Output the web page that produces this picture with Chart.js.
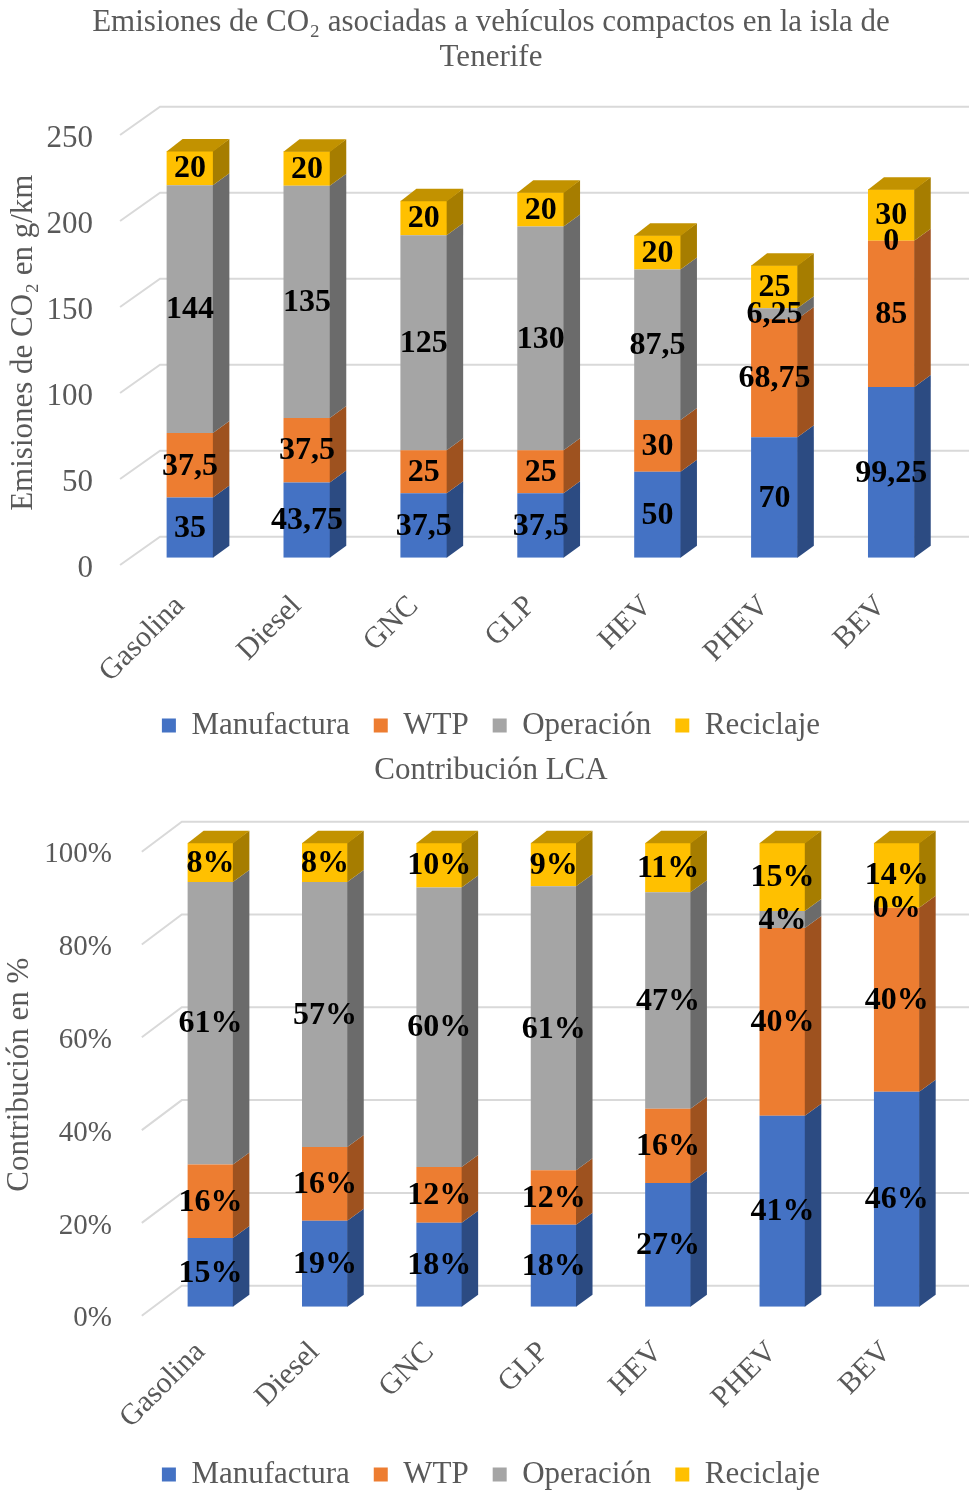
<!DOCTYPE html>
<html lang="es">
<head>
<meta charset="utf-8">
<title>Emisiones de CO₂ de vehículos compactos en Tenerife</title>
<script src="https://cdn.jsdelivr.net/npm/chart.js@4.4.1/dist/chart.umd.min.js"></script>
<style>
  html, body { margin: 0; padding: 0; width: 969px; height: 1492px; overflow: hidden; background: #ffffff; }
  canvas { position: absolute; left: 0; }
  #emisiones { top: 0; }
  #contribucion { top: 751px; }
</style>
</head>
<body>
<canvas id="emisiones" width="969" height="751"></canvas>
<canvas id="contribucion" width="969" height="749"></canvas>
<script>
// Vehicle technologies (categories)
const categories = ['Gasolina', 'Diesel', 'GNC', 'GLP', 'HEV', 'PHEV', 'BEV'];
const seriesNames = ['Manufactura', 'WTP', 'Operación', 'Reciclaje'];

// Life-cycle CO2 emissions, g/km
const manufactura = [35, 43.75, 37.5, 37.5, 50, 70, 99.25];
const wtp         = [37.5, 37.5, 25, 25, 30, 68.75, 85];
const operacion   = [144, 135, 125, 130, 87.5, 6.25, 0];
const reciclaje   = [20, 20, 20, 20, 20, 25, 30];

// Axis ticks
const emissionTicks = [0, 50, 100, 150, 200, 250];
const percentTicks  = [0, 20, 40, 60, 80, 100];

// Colours: front face, side face, top face
const faceColors = ['#4472C4', '#ED7D31', '#A5A5A5', '#FFC000'];
const sideColors = ['#2C4B82', '#9E521F', '#6B6B6B', '#A67D00'];
const topColors  = ['#3A63AB', '#C9692A', '#8A8A8A', '#C29200'];

const SERIF = '"Liberation Serif", "Times New Roman", serif';
const GREY = '#595959';

const series = [manufactura, wtp, operacion, reciclaje];

// 100 % stacked view: share of each stage in the vehicle total
const totals = categories.map((_, i) => series.reduce((s, arr) => s + arr[i], 0));
const shares = series.map(arr => arr.map((v, i) => v / totals[i] * 100));

// Draws the pseudo-3D box: back-wall gridlines, side/top faces and value labels
const bar3d = {
  id: 'bar3d',
  beforeDatasetsDraw(chart, args, o) {
    const { ctx, chartArea: a } = chart;
    const y = chart.scales.y;
    ctx.save();
    ctx.strokeStyle = o.gridColor;
    ctx.lineWidth = o.gridWidth;
    y.ticks.forEach(t => {
      const yf = y.getPixelForValue(t.value);
      ctx.beginPath();
      ctx.moveTo(a.left + o.floorFront[0], yf + o.floorFront[1]);
      ctx.lineTo(a.left + o.floorBack[0], yf + o.floorBack[1]);
      ctx.lineTo(chart.width, yf + o.floorBack[1]);
      ctx.stroke();
    });
    ctx.restore();
  },
  afterDatasetsDraw(chart, args, o) {
    const { ctx } = chart;
    const [dx, dy] = o.depth;
    const nCat = chart.data.labels.length;
    ctx.save();
    // side faces
    chart.data.datasets.forEach((ds, di) => {
      chart.getDatasetMeta(di).data.forEach(el => {
        const { x, y, base, width } = el.getProps(['x', 'y', 'base', 'width'], true);
        const top = Math.min(y, base), bot = Math.max(y, base);
        if (bot - top < 0.01) return;
        const r = x + width / 2;
        ctx.fillStyle = o.sideColors[di];
        ctx.beginPath();
        ctx.moveTo(r - 0.5, bot);
        ctx.lineTo(r - 0.5, top);
        ctx.lineTo(r + dx, top - dy);
        ctx.lineTo(r + dx, bot - dy);
        ctx.closePath();
        ctx.fill();
      });
    });
    // top face of each stack
    for (let i = 0; i < nCat; i++) {
      let di = -1;
      chart.data.datasets.forEach((ds, k) => { if (ds.data[i] > 0) di = k; });
      if (di < 0) continue;
      const el = chart.getDatasetMeta(di).data[i];
      const { x, y, base, width } = el.getProps(['x', 'y', 'base', 'width'], true);
      const top = Math.min(y, base);
      const l = x - width / 2, r = x + width / 2;
      ctx.fillStyle = o.topColors[di];
      ctx.beginPath();
      ctx.moveTo(l, top + 0.5);
      ctx.lineTo(l + dx, top - dy);
      ctx.lineTo(r + dx, top - dy);
      ctx.lineTo(r, top + 0.5);
      ctx.closePath();
      ctx.fill();
    }
    // value labels
    ctx.font = 'bold ' + o.labelSize + 'px ' + SERIF;
    ctx.fillStyle = '#000000';
    ctx.textAlign = 'center';
    ctx.textBaseline = 'middle';
    chart.data.datasets.forEach((ds, di) => {
      chart.getDatasetMeta(di).data.forEach((el, i) => {
        const { x, y, base } = el.getProps(['x', 'y', 'base'], true);
        ctx.fillText(o.format(ds.data[i]), x, (y + base) / 2 + 1);
      });
    });
    ctx.restore();
  }
};

function buildDatasets(valueLists) {
  return seriesNames.map((name, k) => ({
    label: name,
    data: valueLists[k],
    backgroundColor: faceColors[k],
    borderWidth: 0,
    barPercentage: 0.4,
    categoryPercentage: 1
  }));
}

function buildOptions(cfg) {
  return {
    responsive: false,
    animation: false,
    events: [],
    layout: { padding: { left: cfg.padLeft, right: cfg.padRight, top: 0, bottom: 0 } },
    scales: {
      x: {
        stacked: true,
        grid: { display: false, drawTicks: false },
        border: { display: false },
        ticks: {
          color: GREY,
          font: { family: SERIF, size: 30 },
          minRotation: 45, maxRotation: 45,
          autoSkip: false,
          padding: cfg.xPad,
          labelOffset: cfg.xShift
        },
        afterFit: s => { s.height = s.chart.height - s.chart.legend.height - cfg.bottom; }
      },
      y: {
        stacked: true,
        min: 0,
        max: cfg.ticks[cfg.ticks.length - 1],
        grid: { display: false, drawTicks: false },
        border: { display: false },
        afterBuildTicks: s => { s.ticks = cfg.ticks.map(v => ({ value: v })); },
        ticks: {
          color: GREY,
          font: { family: SERIF, size: cfg.tickSize },
          padding: cfg.yPad,
          labelOffset: cfg.yShift,
          callback: cfg.tickFormat
        },
        title: {
          display: true,
          text: cfg.yTitle,
          color: GREY,
          font: { family: SERIF, size: 31, lineHeight: 1 },
          padding: { top: cfg.yTitlePad, bottom: 0 }
        },
        afterFit: s => { s.width = cfg.left - cfg.padLeft; }
      }
    },
    plugins: {
      title: {
        display: true,
        text: cfg.title,
        color: GREY,
        font: { family: SERIF, size: 31, weight: 'normal', lineHeight: cfg.titleLH },
        padding: { top: cfg.titleTop, bottom: cfg.titleBottom }
      },
      legend: {
        position: 'bottom',
        labels: {
          color: GREY,
          font: { family: SERIF, size: 31 },
          boxWidth: 14,
          boxHeight: 14,
          padding: 24
        }
      },
      tooltip: { enabled: false },
      bar3d: {
        gridColor: '#D9D9D9',
        gridWidth: 2,
        floorFront: cfg.floorFront,
        floorBack: cfg.floorBack,
        depth: [16, 12],
        sideColors: sideColors,
        topColors: topColors,
        labelSize: 32,
        format: cfg.labelFormat
      }
    }
  };
}

// Chart 1: absolute emissions
new Chart(document.getElementById('emisiones'), {
  type: 'bar',
  data: { labels: categories, datasets: buildDatasets(series) },
  options: buildOptions({
    padLeft: 32.2, padRight: 19.2, left: 131.55, bottom: 557.7,
    ticks: emissionTicks, tickSize: 31, yPad: 38.5, yShift: 11,
    tickFormat: v => String(v),
    yTitle: 'Emisiones de CO₂ en g/km', yTitlePad: -23.7,
    title: ['Emisiones de CO₂ asociadas a vehículos compactos en la isla de', 'Tenerife'],
    titleLH: 35 / 31, titleTop: 5.5, titleBottom: 52.2,
    xPad: 31, xShift: -10,
    floorFront: [-11.5, 7.3], floorBack: [28.5, -21],
    labelFormat: v => String(v).replace('.', ',')
  }),
  plugins: [bar3d]
});

// Chart 2: percentage contribution of each stage
new Chart(document.getElementById('contribucion'), {
  type: 'bar',
  data: { labels: categories, datasets: buildDatasets(shares) },
  options: buildOptions({
    padLeft: 28, padRight: 15, left: 153.3, bottom: 555.7,
    ticks: percentTicks, tickSize: 29, yPad: 41.3, yShift: 12,
    tickFormat: v => v + '%',
    yTitle: 'Contribución en %', yTitlePad: -23.5,
    title: 'Contribución LCA',
    titleLH: 36 / 31, titleTop: 2, titleBottom: 53.7,
    xPad: 28, xShift: -10,
    floorFront: [-11.5, 9], floorBack: [28.5, -21],
    labelFormat: v => Math.round(v) + '%'
  }),
  plugins: [bar3d]
});
</script>
</body>
</html>
